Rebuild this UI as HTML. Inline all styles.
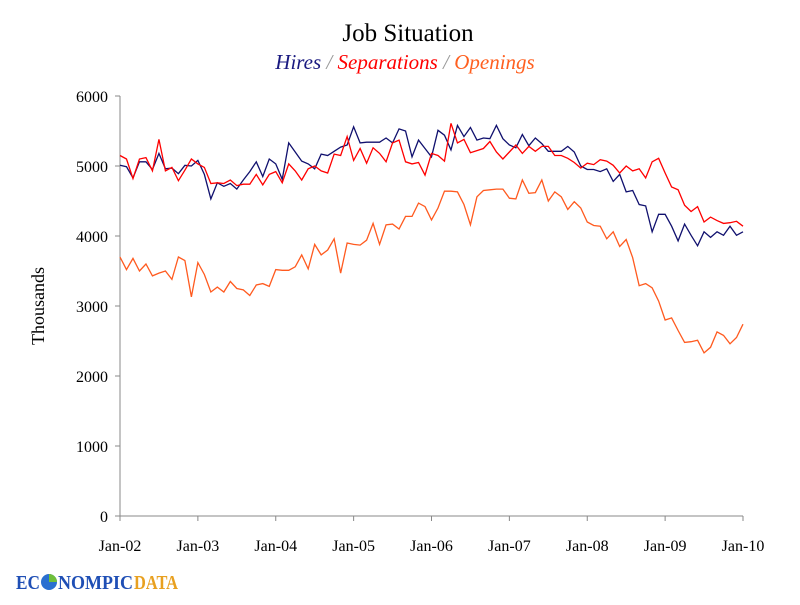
<!DOCTYPE html>
<html><head><meta charset="utf-8"><style>
body{margin:0;background:#fff;width:800px;height:600px;overflow:hidden;font-family:"Liberation Serif",serif}
</style></head><body>
<svg id="chart" width="800" height="600" xmlns="http://www.w3.org/2000/svg" font-family="Liberation Serif, serif">
<text x="408" y="41" font-size="25" text-anchor="middle" fill="#000">Job Situation</text>
<text x="405" y="69" font-size="21" font-style="italic" text-anchor="middle"><tspan fill="#1a1a80">Hires</tspan><tspan fill="#999"> / </tspan><tspan fill="#ff0000">Separations</tspan><tspan fill="#999"> / </tspan><tspan fill="#ff6020">Openings</tspan></text>
<text transform="translate(44,306) rotate(-90)" font-size="18" text-anchor="middle">Thousands</text>
<g id="axes"></g><g id="series"></g>
<g>
<text x="16" y="589" font-size="20" font-weight="bold" fill="#1f4fb5" textLength="24" lengthAdjust="spacingAndGlyphs">EC</text>
<circle cx="49" cy="582" r="8" fill="#2a6fd0"/><path d="M49 582 L49 574 A8 8 0 0 1 57 582 Z" fill="#6fbf3a"/>
<text x="58" y="589" font-size="20" font-weight="bold" fill="#1f4fb5" textLength="75" lengthAdjust="spacingAndGlyphs">NOMPIC</text>
<text x="134" y="589" font-size="20" font-weight="bold" fill="#e8a020" textLength="44" lengthAdjust="spacingAndGlyphs">DATA</text>
</g>
</svg>
<script>
const tickLabels=["Jan-02","Jan-03","Jan-04","Jan-05","Jan-06","Jan-07","Jan-08","Jan-09","Jan-10"];
const yTicks=[0,1000,2000,3000,4000,5000,6000];
const hires=[5010,4990,4830,5060,5060,4950,5180,4960,4970,4890,5010,5000,
5080,4880,4530,4760,4710,4750,4670,4800,4920,5060,4850,5100,
5030,4810,5330,5200,5070,5030,4960,5170,5150,5210,5270,5300,
5560,5330,5340,5340,5340,5400,5330,5530,5500,5130,5370,5250,
5130,5510,5440,5230,5580,5420,5550,5370,5400,5390,5580,5390,
5300,5260,5450,5290,5400,5320,5210,5210,5210,5280,5200,5000,
4950,4950,4920,4960,4780,4880,4630,4650,4450,4430,4060,4310,
4310,4140,3930,4170,4010,3860,4060,3980,4060,4010,4140,4010,4060];
const separations=[5150,5100,4820,5100,5120,4930,5380,4930,4980,4790,4940,5100,
5030,4980,4750,4760,4750,4800,4720,4740,4740,4880,4730,4880,
4920,4760,5030,4930,4800,4960,5000,4930,4900,5170,5150,5420,
5080,5250,5040,5260,5180,5060,5330,5370,5060,5030,5050,4870,
5180,5150,5070,5610,5330,5380,5190,5220,5250,5350,5200,5100,
5200,5300,5180,5280,5210,5280,5280,5150,5150,5110,5050,4970,
5040,5020,5090,5070,5010,4900,5000,4930,4960,4830,5060,5110,
4900,4700,4660,4440,4350,4420,4200,4270,4220,4180,4190,4210,4140];
const openings=[3700,3520,3680,3500,3600,3430,3470,3500,3380,3700,3650,3130,
3620,3450,3200,3270,3200,3350,3250,3230,3150,3300,3320,3280,
3520,3510,3510,3560,3730,3530,3880,3730,3800,3960,3470,3900,
3880,3870,3940,4180,3880,4160,4170,4100,4280,4280,4470,4420,
4230,4400,4640,4640,4630,4450,4160,4560,4650,4660,4670,4670,
4540,4530,4800,4610,4620,4800,4500,4630,4560,4380,4490,4400,
4200,4150,4140,3960,4060,3850,3950,3690,3290,3320,3260,3070,
2800,2830,2650,2480,2490,2510,2330,2410,2630,2580,2460,2550,2740];
const X0=120,X1=743,Y0=516,Y1=96,N=96;
const xs=i=>X0+(X1-X0)*i/N;
const ys=v=>Y0-(Y0-Y1)*v/6000;
const NS="http://www.w3.org/2000/svg";
const axes=document.getElementById('axes'),ser=document.getElementById('series');
function mk(tag,attrs,parent){const e=document.createElementNS(NS,tag);for(const k in attrs)e.setAttribute(k,attrs[k]);parent.appendChild(e);return e;}
let a=mk('line',{x1:X0,y1:Y1,x2:X0,y2:Y0,stroke:'#888','stroke-width':1},axes);


a=mk('line',{x1:X0,y1:Y0,x2:X1,y2:Y0,stroke:'#888','stroke-width':1},axes);


yTicks.forEach(v=>{
 const t=mk('line',{x1:X0-5,x2:X0,y1:ys(v),y2:ys(v),stroke:'#888'},axes);
 
 
 const l=mk('text',{x:X0-12,y:ys(v)+6,'font-size':16,'text-anchor':'end'},axes);l.textContent=v;
 
 
});
tickLabels.forEach((s,i)=>{
 const x=xs(i*12);
 const t=mk('line',{x1:x,x2:x,y1:Y0,y2:Y0+5,stroke:'#888'},axes);
 
 
 const l=mk('text',{x:x,y:Y0+35,'font-size':16,'text-anchor':'middle'},axes);l.textContent=s;
 
 
});
function line(data,color,name){
 const p=mk('polyline',{points:data.map((v,i)=>xs(i)+','+ys(v)).join(' '),fill:'none',stroke:color,'stroke-width':1.3},ser);
 
 
}
line(openings,'#ff5a1f','openings-line');
line(hires,'#10106e','hires-line');
line(separations,'#ff0000','separations-line');
</script>
</body></html>
